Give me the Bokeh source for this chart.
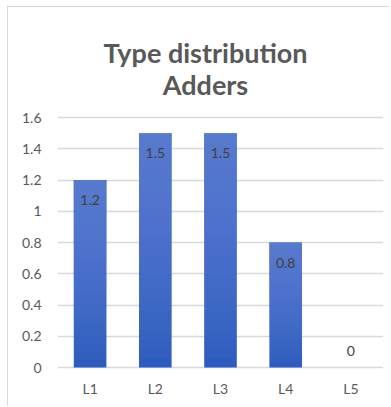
from bokeh.plotting import figure
from bokeh.models import ColumnDataSource, Range1d, FactorRange, FixedTicker, CustomJSTickFormatter, Label
from bokeh.core.properties import value
from bokeh.embed import file_html
from bokeh.resources import INLINE

categories = ["L1", "L2", "L3", "L4", "L5"]
values = [1.2, 1.5, 1.5, 0.8, 0]
value_labels = ["1.2", "1.5", "1.5", "0.8", "0"]
y_ticks = [0, 0.2, 0.4, 0.6, 0.8, 1.0, 1.2, 1.4, 1.6]
title_lines = ["Type distribution", "Adders"]

FONT = "Lato"
GREY = "#595959"

# pixel layout: 0 at 360px from the frame top, 156.25 px per unit
PX_PER_UNIT = 156.25
y_end = 360 / PX_PER_UNIT
y_start = -2 / PX_PER_UNIT

p = figure(width=383, height=400, x_range=FactorRange(*categories, range_padding=0),
           y_range=Range1d(y_start, y_end), output_backend="svg", toolbar_location=None,
           min_border_left=49, min_border_right=8, min_border_bottom=38, min_border_top=0)
p.styles = {"margin-left": "7px", "margin-top": "6px",
            "border-left": "1px solid #d9d9d9", "border-top": "1px solid #d9d9d9"}

# title lines (baselines 315px and 283px above the zero line)
for line, dy in zip(title_lines, [315, 283]):
    p.add_layout(Label(x=2.27, y=dy / PX_PER_UNIT, text=line,
                       text_align="center", text_baseline="alphabetic", text_font=FONT,
                       text_font_size="27px", text_font_style="bold", text_color=GREY))

p.outline_line_color = None
p.background_fill_color = "white"
p.border_fill_color = "white"

src = ColumnDataSource(dict(
    cat=categories, val=values, lab=value_labels,
    off=[20 if v > 0 else -17 for v in values],
))

p.vbar(x="cat", top="val", width=0.5, source=src, fill_color="#2E5CBE", line_color=None)
N = 24
for k in range(N):
    src_k = ColumnDataSource(dict(cat=categories, val=values,
                                  bot=[v * (k + 1) / (N + 1) for v in values]))
    p.vbar(x="cat", top="val", bottom="bot", width=0.5, source=src_k,
           fill_color="#7A9BE0", fill_alpha=0.038, line_color=None)

p.text(x="cat", y="val", text="lab", source=src, y_offset="off",
       text_align="center", text_baseline="middle", text_font=value(FONT),
       text_font_size="14px", text_color="#404040")

p.yaxis.ticker = FixedTicker(ticks=y_ticks)
p.yaxis.formatter = CustomJSTickFormatter(code="return tick.toFixed(1).replace(/\\.0$/, '');")
for ax in (p.xaxis, p.yaxis):
    ax.axis_line_color = None
    ax.major_tick_line_color = None
    ax.minor_tick_line_color = None
    ax.major_tick_out = 0
    ax.major_tick_in = 0
    ax.minor_tick_out = 0
    ax.minor_tick_in = 0
    ax.major_label_text_font = FONT
    ax.major_label_text_font_size = "14px"
    ax.major_label_text_color = GREY
p.yaxis.major_label_standoff = 16
p.xaxis.major_label_standoff = 10

p.ygrid.ticker = FixedTicker(ticks=y_ticks)
p.ygrid.grid_line_color = "#d9d9d9"
p.ygrid.grid_line_width = 1.5
p.xgrid.grid_line_color = None

open("out.html", "w").write(file_html(p, INLINE))
